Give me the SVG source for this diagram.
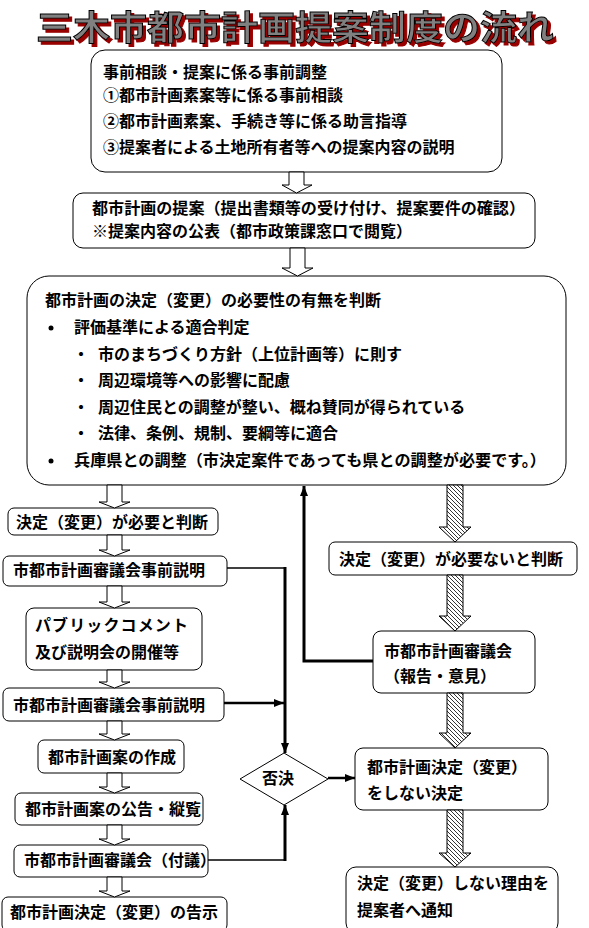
<svg xmlns="http://www.w3.org/2000/svg" width="589" height="928" viewBox="0 0 589 928">
<style>
.box{fill:#fff;stroke:#000;stroke-width:1}
.t{font-family:"Noto Sans CJK JP","Noto Sans",sans-serif;font-size:16px;font-weight:bold;fill:#000}
.ba{fill:#fff;stroke:#000;stroke-width:1}
.ha{fill:url(#hatch);stroke:#000;stroke-width:1}
.thin{stroke:#000;stroke-width:1.5;fill:none}
.thick{stroke:#000;stroke-width:3;fill:none}
.mid{stroke:#000;stroke-width:2.5;fill:none}
.title{font-family:"Noto Sans CJK JP",sans-serif;font-size:34.5px;font-weight:bold;fill:#808080;stroke:#000;stroke-width:1}
</style>
<defs>
<pattern id="hatch" patternUnits="userSpaceOnUse" width="4" height="4">
<rect width="4" height="4" fill="#fff"/>
<path d="M-1,-1 L5,5 M-1,3 L1,5 M3,-1 L5,1" stroke="#000" stroke-width="0.8"/>
</pattern>
<marker id="ah" viewBox="0 0 10 8" refX="10" refY="4" markerWidth="10" markerHeight="8" markerUnits="userSpaceOnUse" orient="auto">
<path d="M0,0 L10,4 L0,8 z" fill="#000"/>
</marker>
<filter id="sh" x="-5%" y="-20%" width="115%" height="150%">
<feOffset in="SourceAlpha" dx="3" dy="3" result="o"/>
<feFlood flood-color="#990000"/>
<feComposite in2="o" operator="in" result="s"/>
<feMerge><feMergeNode in="s"/><feMergeNode in="SourceGraphic"/></feMerge>
</filter>
</defs>
<rect width="589" height="928" fill="#fff"/>

<g id="title">
<text class="title" x="36" y="40" filter="url(#sh)" textLength="518" lengthAdjust="spacingAndGlyphs">三木市都市計画提案制度の流れ</text>
</g>

<g id="n1">
<rect class="box" x="91" y="50" width="411" height="122" rx="14"/>
<text class="t" x="103" y="78">事前相談・提案に係る事前調整</text>
<text class="t" x="103" y="101">①都市計画素案等に係る事前相談</text>
<text class="t" x="103" y="127">②都市計画素案、手続き等に係る助言指導</text>
<text class="t" x="103" y="153">③提案者による土地所有者等への提案内容の説明</text>
</g>

<g id="n2">
<rect class="box" x="73" y="193" width="462" height="55" rx="10"/>
<text class="t" x="92" y="214" textLength="433" lengthAdjust="spacingAndGlyphs">都市計画の提案（提出書類等の受け付け、提案要件の確認）</text>
<text class="t" x="92" y="237">※提案内容の公表（都市政策課窓口で閲覧）</text>
</g>

<g id="n3">
<rect class="box" x="27" y="276" width="539" height="209" rx="22"/>
<text class="t" x="45" y="306">都市計画の決定（変更）の必要性の有無を判断</text>
<circle cx="51" cy="328" r="2.5" fill="#000"/>
<text class="t" x="74" y="333">評価基準による適合判定</text>
<text class="t" x="73" y="360">・</text>
<text class="t" x="98" y="360">市のまちづくり方針（上位計画等）に則す</text>
<text class="t" x="73" y="386">・</text>
<text class="t" x="98" y="386">周辺環境等への影響に配慮</text>
<text class="t" x="73" y="413">・</text>
<text class="t" x="98" y="413">周辺住民との調整が整い、概ね賛同が得られている</text>
<text class="t" x="73" y="439">・</text>
<text class="t" x="98" y="439">法律、条例、規制、要綱等に適合</text>
<circle cx="51" cy="461" r="2.5" fill="#000"/>
<text class="t" x="74" y="466" textLength="472" lengthAdjust="spacingAndGlyphs">兵庫県との調整（市決定案件であっても県との調整が必要です。）</text>
</g>

<g id="n4">
<rect class="box" x="8" y="508" width="210" height="27" rx="6"/>
<text class="t" x="16" y="528">決定（変更）が必要と判断</text>
</g>
<g id="n5">
<rect class="box" x="3" y="556" width="224" height="30" rx="6"/>
<text class="t" x="13" y="576">市都市計画審議会事前説明</text>
</g>
<g id="n6">
<rect class="box" x="26" y="608" width="176" height="62" rx="8"/>
<text class="t" x="35" y="631" textLength="153" lengthAdjust="spacing">パブリックコメント</text>
<text class="t" x="35" y="658">及び説明会の開催等</text>
</g>
<g id="n7">
<rect class="box" x="3" y="688" width="221" height="33" rx="6"/>
<text class="t" x="13" y="711">市都市計画審議会事前説明</text>
</g>
<g id="n8">
<rect class="box" x="38" y="740" width="146" height="33" rx="6"/>
<text class="t" x="48" y="763">都市計画案の作成</text>
</g>
<g id="n9">
<rect class="box" x="15" y="793" width="188" height="32" rx="6"/>
<text class="t" x="25" y="815">都市計画案の公告・縦覧</text>
</g>
<g id="n10">
<rect class="box" x="14" y="845" width="194" height="32" rx="6"/>
<text class="t" x="24" y="866">市都市計画審議会（付議）</text>
</g>
<g id="n11">
<rect class="box" x="2" y="897" width="225" height="34" rx="6"/>
<text class="t" x="10" y="918">都市計画決定（変更）の告示</text>
</g>

<g id="n12">
<polygon class="box" points="240,779 284,753 328,779 284,805"/>
<text class="t" x="278" y="784" text-anchor="middle">否決</text>
</g>

<g id="n13">
<rect class="box" x="329" y="542" width="248" height="33" rx="6"/>
<text class="t" x="339" y="565">決定（変更）が必要ないと判断</text>
</g>
<g id="n14">
<rect class="box" x="373" y="631" width="162" height="62" rx="8"/>
<text class="t" x="384" y="657">市都市計画審議会</text>
<text class="t" x="384" y="682">（報告・意見）</text>
</g>
<g id="n15">
<rect class="box" x="355" y="748" width="193" height="62" rx="8"/>
<text class="t" x="367" y="773">都市計画決定（変更）</text>
<text class="t" x="367" y="799">をしない決定</text>
</g>
<g id="n16">
<rect class="box" x="346" y="867" width="212" height="66" rx="10"/>
<text class="t" x="357" y="889">決定（変更）しない理由を</text>
<text class="t" x="357" y="916">提案者へ通知</text>
</g>

<g id="connectors">
<polygon class="ba" points="289,172 304,172 304,185 312,185 296.5,193 282,185 289,185"/>
<polygon class="ba" points="290,248 305,248 305,268 313,268 297.5,276 282,268 290,268"/>
<polygon class="ba" points="107,485 122,485 122,502 130,502 114.5,508 99,502 107,502"/>
<polygon class="ba" points="107,535 122,535 122,550 130,550 114.5,556 99,550 107,550"/>
<polygon class="ba" points="107,586 122,586 122,602 130,602 114.5,608 99,602 107,602"/>
<polygon class="ba" points="107,670 122,670 122,682 130,682 114.5,688 99,682 107,682"/>
<polygon class="ba" points="107,721 122,721 122,734 130,734 114.5,740 99,734 107,734"/>
<polygon class="ba" points="107,773 122,773 122,787 130,787 114.5,793 99,787 107,787"/>
<polygon class="ba" points="107,825 122,825 122,839 130,839 114.5,845 99,839 107,839"/>
<polygon class="ba" points="107,877 122,877 122,891 130,891 114.5,897 99,891 107,891"/>
<polygon class="ha" points="447,485 463,485 463,527 471,527 455,542 439,527 447,527"/>
<polygon class="ha" points="447,575 463,575 463,616 471,616 455,631 439,616 447,616"/>
<polygon class="ha" points="447,693 463,693 463,733 471,733 455,748 439,733 447,733"/>
<polygon class="ha" points="447,810 463,810 463,853 471,853 455,867 439,853 447,853"/>
<line class="thin" x1="227" y1="568" x2="285" y2="568"/>
<line class="thick" x1="285" y1="567" x2="285" y2="753" marker-end="url(#ah)"/>
<line class="mid" x1="224" y1="703" x2="284" y2="703" marker-end="url(#ah)"/>
<line class="thin" x1="208" y1="860" x2="285" y2="860"/>
<line class="thick" x1="285" y1="861" x2="285" y2="805" marker-end="url(#ah)"/>
<line class="mid" x1="328" y1="778" x2="355" y2="778" marker-end="url(#ah)"/>
<polyline class="thick" points="373,661 304,661 304,486" marker-end="url(#ah)"/>
</g>
</svg>
